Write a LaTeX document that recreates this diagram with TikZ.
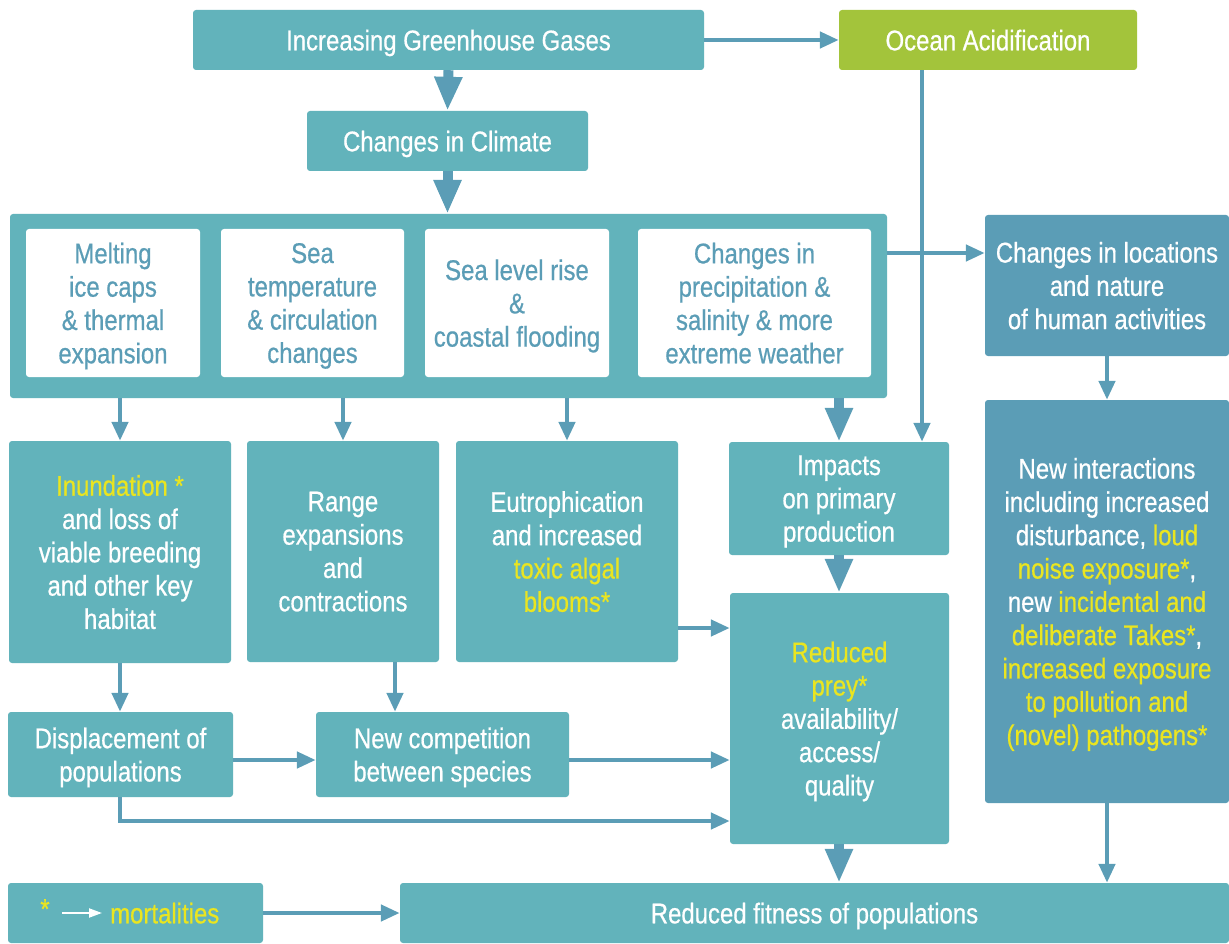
\documentclass[tikz,border=0pt]{standalone}
\usepackage{fontspec}
\setmainfont{Liberation Sans}[FakeStretch=0.84,FakeBold=0.6]
\usetikzlibrary{arrows.meta}
\definecolor{tealbox}{HTML}{62B3BB}
\definecolor{blu}{HTML}{5B9DB6}
\definecolor{grn}{HTML}{A3C43B}
\definecolor{yel}{HTML}{EAE520}
\begin{document}
\begin{tikzpicture}[x=1pt,y=-1pt,
  box/.style={fill=tealbox, rounded corners=3pt, inner sep=0pt, align=center, text=white, text depth=0pt, font=\fontsize{28.5}{33.3}\selectfont},
  darkbox/.style={box, fill=blu},
  greenbox/.style={box, fill=grn},
  wbox/.style={box, fill=white, text=blu},
  thinarr/.style={draw=blu, line width=4.5pt, -{Triangle[width=16pt,length=19pt]}},
  fatarr/.style={draw=blu, line width=10pt, -{Triangle[width=26pt,length=34pt]}},
  plainline/.style={draw=blu, line width=4.5pt}
]
\useasboundingbox (0,0) rectangle (1229,944);

\node[box, minimum width=511, minimum height=60] (ghg) at (448.5,40) {Increasing Greenhouse Gases};
\node[greenbox, minimum width=298, minimum height=60] (ocean) at (988,40) {Ocean Acidification};
\node[box, minimum width=281, minimum height=60] (climate) at (447.5,141) {Changes in Climate};
\node[box, minimum width=877, minimum height=184] (cont) at (448.5,306) {};
\node[wbox, minimum width=174, minimum height=148] (w1) at (113,303) {Melting\\ice caps\\\& thermal\\expansion};
\node[wbox, minimum width=183, minimum height=148] (w2) at (312.5,303) {Sea\\temperature\\\& circulation\\changes};
\node[wbox, minimum width=184, minimum height=148] (w3) at (517,303) {Sea level rise\\\&\\coastal flooding};
\node[wbox, minimum width=233, minimum height=148] (w4) at (754.5,303) {Changes in\\precipitation \&\\salinity \& more\\extreme weather};
\node[darkbox, minimum width=244, minimum height=141] (human) at (1107,285.5) {Changes in locations\\and nature\\of human activities};
\node[darkbox, minimum width=244, minimum height=403] (inter) at (1107,601.5) {New interactions\\including increased\\disturbance, \textcolor{yel}{loud}\\\textcolor{yel}{noise exposure*},\\new \textcolor{yel}{incidental and}\\\textcolor{yel}{deliberate Takes*},\\\textcolor{yel}{increased exposure}\\\textcolor{yel}{to pollution and}\\\textcolor{yel}{(novel) pathogens*}};
\node[box, minimum width=222, minimum height=222] (inund) at (120,552) {\textcolor{yel}{Inundation *}\\and loss of\\viable breeding\\and other key\\habitat};
\node[box, minimum width=192, minimum height=221] (range) at (343,551.5) {Range\\expansions\\and\\contractions};
\node[box, minimum width=222, minimum height=221] (eutro) at (567,551.5) {Eutrophication\\and increased\\\textcolor{yel}{toxic algal}\\\textcolor{yel}{blooms*}};
\node[box, minimum width=220, minimum height=113] (impacts) at (839,498.5) {Impacts\\on primary\\production};
\node[box, minimum width=219, minimum height=251] (prey) at (839.5,718.5) {\textcolor{yel}{Reduced}\\\textcolor{yel}{prey*}\\availability/\\access/\\quality};
\node[box, minimum width=225, minimum height=85] (displ) at (120.5,754.5) {Displacement of\\populations};
\node[box, minimum width=253, minimum height=85] (comp) at (442.5,754.5) {New competition\\between species};
\node[box, minimum width=255, minimum height=60] (legend) at (135.5,913) {};
\node[box, minimum width=829, minimum height=60] (fitness) at (814.5,913) {Reduced fitness of populations};

% legend content
\node[text=yel, font=\fontsize{28.5}{33.3}\selectfont, inner sep=0pt] (star) at (45,909) {*};
\coordinate (la) at (62,913);
\coordinate (lb) at (102,913);
\draw[white, line width=2pt, -{Triangle[width=9pt,length=13pt]}] (la) -- (lb);
\node[text=yel, font=\fontsize{28.5}{33.3}\selectfont, inner sep=0pt, anchor=west, text depth=0pt] (mort) at (110,913) {mortalities};

% helper coordinates
\coordinate (ocx) at (922,0);
\coordinate (hy) at (0,253);
\coordinate (rcx) at (395,0);
\coordinate (ey) at (0,628);
\coordinate (dy) at (0,821);
\coordinate (dcorner) at (120,821);

% connectors
\draw[thinarr] (ghg) -- (ocean);
\draw[fatarr] (ghg.south) -- (climate.north);
\draw[fatarr] (climate.south) -- (cont.north -| climate.south);
\draw[thinarr] (ocean.south -| ocx) -- (impacts.north -| ocx);
\draw[thinarr] (cont.east |- hy) -- (human.west |- hy);
\draw[thinarr] (cont.south -| inund.north) -- (inund.north);
\draw[thinarr] (cont.south -| range.north) -- (range.north);
\draw[thinarr] (cont.south -| eutro.north) -- (eutro.north);
\draw[fatarr] (cont.south -| impacts.north) -- (impacts.north);
\draw[fatarr] (impacts.south) -- (prey.north -| impacts.south);
\draw[fatarr] (prey.south -| impacts.south) -- (fitness.north -| impacts.south);
\draw[thinarr] (human.south) -- (inter.north);
\draw[thinarr] (inter.south) -- (fitness.north -| inter.south);
\draw[thinarr] (eutro.east |- ey) -- (prey.west |- ey);
\draw[thinarr] (inund.south) -- (displ.north -| inund.south);
\draw[thinarr] (range.south -| rcx) -- (comp.north -| rcx);
\draw[thinarr] (displ.east |- 0,760) -- (comp.west |- 0,760);
\draw[thinarr] (comp.east |- 0,760) -- (prey.west |- 0,760);
\draw[thinarr] (displ.south -| dcorner) -- (dcorner) -- (prey.west |- dy);
\draw[thinarr] (legend) -- (fitness);
\end{tikzpicture}
\end{document}
